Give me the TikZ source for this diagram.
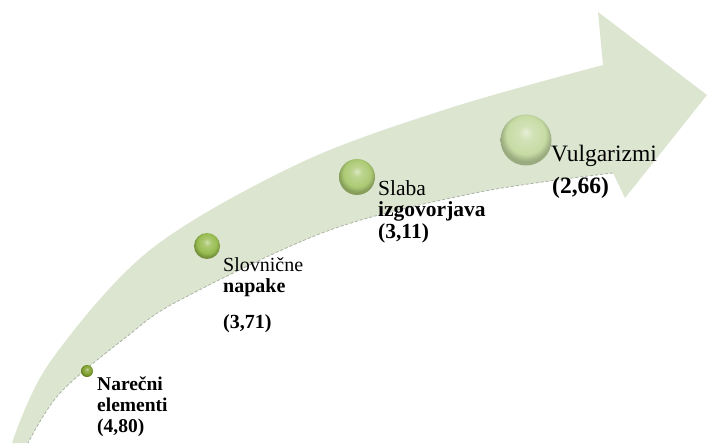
\documentclass[tikz,border=0pt]{standalone}
\usepackage{fontspec}
\setmainfont{Liberation Serif}
\definecolor{bandfill}{RGB}{220,229,208}
\definecolor{bandedge}{RGB}{170,178,165}
\definecolor{ballA}{RGB}{126,160,44}
\definecolor{ballB}{RGB}{152,188,80}
\definecolor{ballC}{RGB}{172,202,116}
\definecolor{ballD}{RGB}{198,219,164}
\colorlet{ballc}{ballB}
% soft sphere: light cap at the top, darker rim
\pgfdeclareradialshading[ballc]{softball}{\pgfqpoint{0bp}{8bp}}{%
  color(0bp)=(ballc!45!white); color(7bp)=(ballc!80!white);
  color(19bp)=(ballc); color(25bp)=(ballc!78!black); color(50bp)=(ballc!78!black)}
\tikzset{
  sphere/.style={circle, inner sep=0pt, minimum size=#1, shading=softball},
  ballcol/.code={\colorlet{ballc}{#1}},
  lbl/.style={anchor=base west, inner sep=0pt, font=\rmfamily\fontsize{#1}{#1}\selectfont},
  lblb/.style={anchor=base west, inner sep=0pt, font=\rmfamily\fontsize{#1}{#1}\selectfont\bfseries}
}
\begin{document}
\begin{tikzpicture}[x=1pt, y=-1pt]
\useasboundingbox (0,0) rectangle (708,445);
% curved band ending in an arrow head
\fill[bandfill]
  plot[smooth, tension=0.55] coordinates {(12,443) (50,362) (150,250) (300,163) (450,108) (603,65)}
  -- (598,12) -- (707,95) -- (625,198)
  -- plot[smooth, tension=0.55] coordinates {(613,173) (480,192) (330,230) (180,300) (125,338) (60,393) (28,443)}
  -- cycle;
% faint dashed lower rim
\draw[bandedge, line width=0.8pt, dash pattern=on 3pt off 2pt]
  plot[smooth, tension=0.55] coordinates {(613,173) (480,192) (330,230) (180,300) (125,338) (60,393) (28,443)};
% milestones
\node[sphere=12pt, ballcol=ballA] (b1) at (87,371) {};
\node[sphere=26pt, ballcol=ballB] (b2) at (207,246) {};
\node[sphere=36pt, ballcol=ballC] (b3) at (357,177) {};
\node[sphere=51pt, ballcol=ballD] (b4) at (526,140) {};
% labels
\node[lblb=19.5] (l1a) at (97,390) {Narečni};
\node[lblb=19.5] (l1b) at (97,411) {elementi};
\node[lblb=19.5] (l1c) at (97,432) {(4,80)};
\node[lbl=20]   (l2a) at (223,271) {Slovnične};
\node[lblb=20]  (l2b) at (223,292) {napake};
\node[lblb=20]  (l2c) at (223,328) {(3,71)};
\node[lbl=21.5]  (l3a) at (378,195) {Slaba};
\node[lblb=21.5] (l3b) at (378,216) {izgovorjava};
\node[lblb=21.5] (l3c) at (378,238) {(3,11)};
\node[lbl=23.5]  (l4a) at (551,161) {Vulgarizmi};
\node[lblb=23.5] (l4b) at (552,193) {(2,66)};
\end{tikzpicture}
\end{document}
